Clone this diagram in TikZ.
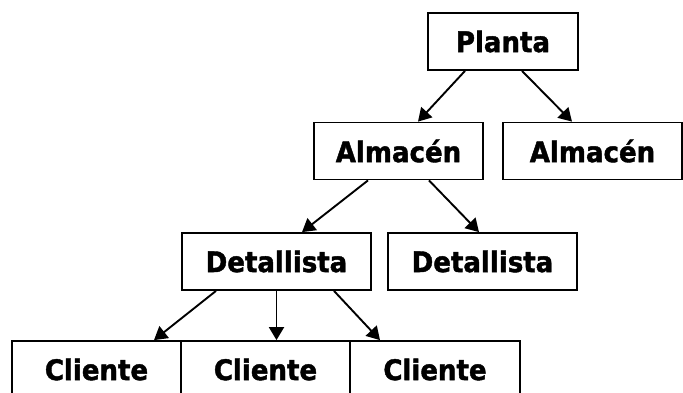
\documentclass[tikz,border=0pt]{standalone}
\usepackage{fontspec}
\setmainfont{DejaVu Sans}
\newfontfamily\boxfont[FakeStretch=0.92,BoldFeatures={FakeBold=1.5}]{DejaVu Sans}
\usetikzlibrary{arrows.meta}
\begin{document}
\begin{tikzpicture}[x=1pt,y=-1pt,
  box/.style={draw=black,line width=1.8pt,rectangle,inner sep=0pt,
    minimum height=57pt,font=\boxfont\fontsize{28.3}{32}\selectfont\bfseries},
  conn/.style={line width=1.9pt,-{Triangle[length=13pt,width=15pt]}}]
\useasboundingbox (0,0) rectangle (683,392);
\node[box,minimum width=150pt] (planta) at (503,41.5) {Planta};
\node[box,minimum width=169pt] (almL) at (398.5,151) {Almacén};
\node[box,minimum width=179pt] (almR) at (592.5,151) {Almacén};
\node[box,minimum width=189pt] (detL) at (276.5,261.5) {Detallista};
\node[box,minimum width=189pt] (detR) at (482.5,261.5) {Detallista};
\node[box,minimum width=169pt] (cli1) at (96.5,369.5) {Cliente};
\node[box,minimum width=169pt] (cli2) at (265.5,369.5) {Cliente};
\node[box,minimum width=170pt] (cli3) at (435,369.5) {Cliente};
\draw[conn] ([xshift=-38pt]planta.south) -- ([xshift=19.5pt]almL.north);
\draw[conn] ([xshift=19pt]planta.south) -- ([xshift=-20.5pt]almR.north);
\draw[conn] ([xshift=-30.5pt]almL.south) -- ([xshift=25.5pt]detL.north);
\draw[conn] ([xshift=30.5pt]almL.south) -- ([xshift=-3.5pt]detR.north);
\draw[conn] ([xshift=-60.5pt]detL.south) -- ([xshift=57.5pt]cli1.north);
\draw[conn] (detL.south) -- ([xshift=11pt]cli2.north);
\draw[conn] ([xshift=57.5pt]detL.south) -- ([xshift=-55pt]cli3.north);
\end{tikzpicture}
\end{document}
